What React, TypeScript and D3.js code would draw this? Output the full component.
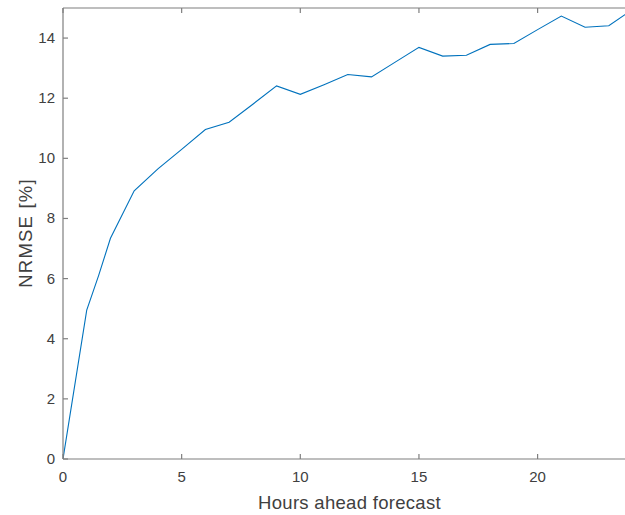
import React from 'react';
import * as d3 from 'd3';

// hours ahead vs. NRMSE
const hours = [0, 1, 1.5, 2, 3, 4, 5, 6, 7, 8, 9, 10, 11, 12, 13, 14, 15, 16, 17, 18, 19, 20, 21, 22, 23, 24];
const nrmse = [0, 4.95, 6.1, 7.34, 8.92, 9.65, 10.3, 10.96, 11.2, 11.8, 12.41, 12.13, 12.45, 12.79, 12.71, 13.2, 13.69, 13.4, 13.43, 13.79, 13.82, 14.28, 14.73, 14.36, 14.41, 14.95];
const xTicks = [0, 5, 10, 15, 20];
const yTicks = [0, 2, 4, 6, 8, 10, 12, 14];

const W = 625;
const H = 515;
const margin = { top: 8, left: 63, bottom: 56 };
const font = 'Liberation Sans, Arial, Helvetica, sans-serif';
const axisColor = '#7f7f7f';
const textColor = '#404040';

export default function App() {
  const x = d3.scaleLinear().domain([0, 24]).range([margin.left, margin.left + 24 * 23.73]);
  const y = d3.scaleLinear().domain([0, 15]).range([H - margin.bottom, margin.top]);

  const pts = hours.map((h, i) => [h, nrmse[i]] as [number, number]);
  const line = d3.line<[number, number]>().x(d => x(d[0])).y(d => y(d[1]));

  const x0 = x(0);
  const x1 = x(24);
  const yb = y(0);
  const yt = y(15);

  return (
    <svg width={W} height={H} style={{ position: 'absolute', left: 0, top: 0, background: '#fff' }}>
      <defs>
        <clipPath id="plot">
          <rect x={x0} y={yt} width={x1 - x0} height={yb - yt} />
        </clipPath>
      </defs>
      <path d={line(pts) || ''} fill="none" stroke="#0072BD" strokeWidth={1.1} clipPath="url(#plot)" />

      {/* box */}
      <g stroke={axisColor} strokeWidth={1.2} fill="none">
        <line x1={x0} y1={yb} x2={x1} y2={yb} />
        <line x1={x0} y1={yt} x2={x1} y2={yt} />
        <line x1={x0} y1={yt} x2={x0} y2={yb} />
        <line x1={x1} y1={yt} x2={x1} y2={yb} />
        {xTicks.map(t => (
          <g key={'x' + t}>
            <line x1={x(t)} x2={x(t)} y1={yb} y2={yb - 5} />
            <line x1={x(t)} x2={x(t)} y1={yt} y2={yt + 5} />
          </g>
        ))}
        {yTicks.map(t => (
          <g key={'y' + t}>
            <line x1={x0} x2={x0 + 5} y1={y(t)} y2={y(t)} />
            <line x1={x1} x2={x1 - 5} y1={y(t)} y2={y(t)} />
          </g>
        ))}
      </g>

      <g fill={textColor} fontFamily={font} fontSize={15}>
        {xTicks.map(t => (
          <text key={'xl' + t} x={x(t)} y={yb + 23} textAnchor="middle">{t}</text>
        ))}
        {yTicks.map(t => (
          <text key={'yl' + t} x={x0 - 8} y={y(t) + 5} textAnchor="end">{t}</text>
        ))}
      </g>

      <text x={349.5} y={509} textAnchor="middle" fill={textColor} fontFamily={font} fontSize={18.5} letterSpacing={0.3}>
        Hours ahead forecast
      </text>
      <text transform={`translate(31.5,233) rotate(-90)`} textAnchor="middle" fill={textColor} fontFamily={font} fontSize={18.5} letterSpacing={1.2}>
        NRMSE [%]
      </text>
    </svg>
  );
}
